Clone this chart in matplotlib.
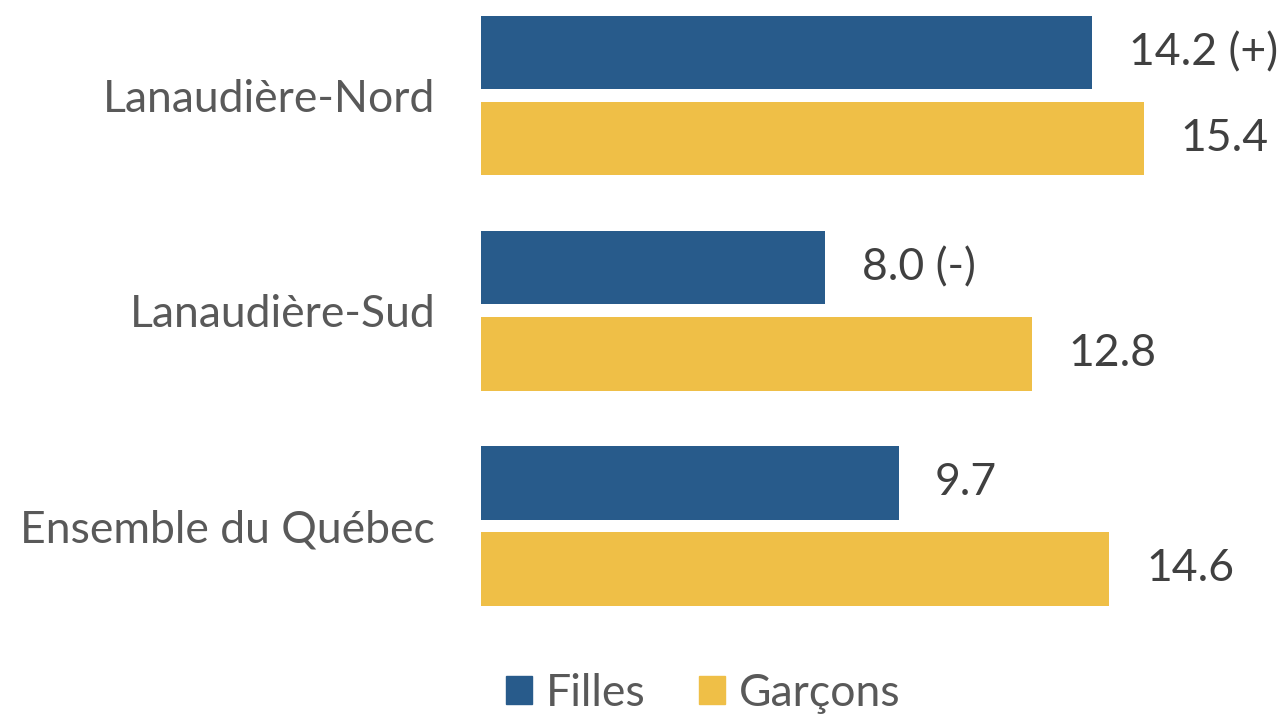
import numpy as np
import matplotlib.pyplot as plt
from matplotlib.patches import Patch

# data
regions = ['Lanaudière-Nord', 'Lanaudière-Sud', 'Ensemble du Québec']
filles = [14.2, 8.0, 9.7]
garcons = [15.4, 12.8, 14.6]
filles_lbl = ['14.2 (+)', '8.0 (-)', '9.7']
garcons_lbl = ['15.4', '12.8', '14.6']

blue = '#285B8B'
yellow = '#EFBF47'

plt.rcParams['font.family'] = ['Lato', 'DejaVu Sans']

fig = plt.figure(figsize=(12.79, 7.15), dpi=100)
ax = fig.add_axes([481/1279, 0, 1 - 481/1279, 1])

y = np.arange(len(regions))
h = 0.342
off = 0.2
ax.barh(y - off, filles, height=h, color=blue)
ax.barh(y + off, garcons, height=h, color=yellow)

pad = 0.85
for i in range(len(regions)):
    ax.text(filles[i] + pad, y[i] - off, filles_lbl[i], va='center', ha='left',
            fontsize=32, color='#404040')
    ax.text(garcons[i] + pad, y[i] + off, garcons_lbl[i], va='center', ha='left',
            fontsize=32, color='#404040')

ax.set_xlim(0, 18.54)
ax.set_ylim(2.879, -0.444)
ax.set_yticks(y)
ax.set_yticklabels(regions, fontsize=32, color='#595959')
ax.tick_params(axis='y', length=0, pad=33)
ax.set_xticks([])
for s in ax.spines.values():
    s.set_visible(False)

handles = [Patch(color=blue, label='Filles'), Patch(color=yellow, label='Garçons')]
leg = fig.legend(handles=handles, loc='center', bbox_to_anchor=(703/1279, 1 - 693/715),
                 ncol=2, frameon=False, fontsize=32, handlelength=0.6, handleheight=0.6,
                 handletextpad=0.3, columnspacing=1.2)
for t in leg.get_texts():
    t.set_color('#595959')

fig.savefig('out.png', dpi=100)
